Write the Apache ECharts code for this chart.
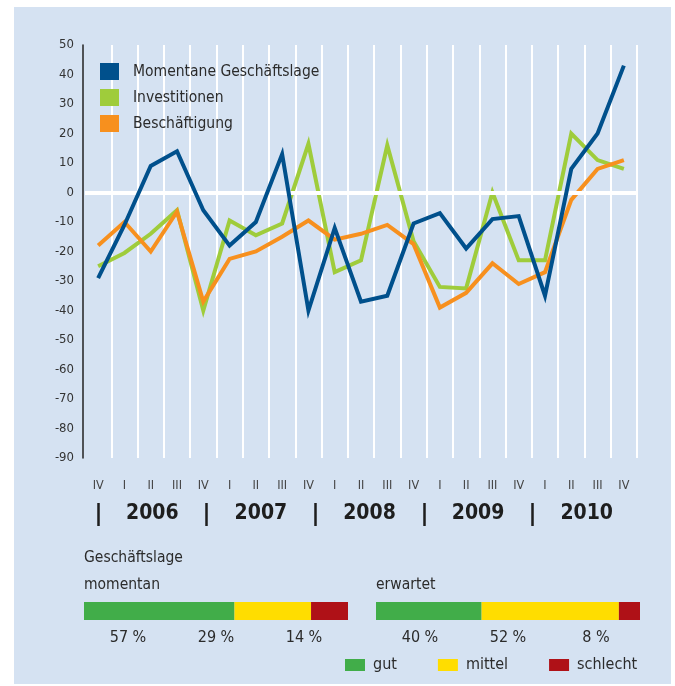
<!DOCTYPE html>
<html>
<head>
<meta charset="utf-8">
<script src="https://cdn.jsdelivr.net/npm/echarts@6/dist/echarts.min.js"></script>
<style>
html,body{margin:0;padding:0;background:#fff;}
#bg{position:absolute;left:14px;top:7px;width:657px;height:677px;background:#D5E2F2;}
#chart{position:absolute;left:0;top:0;width:675px;height:686px;}
</style>
</head>
<body>
<div id="bg"></div>
<div id="chart"></div>
<script>
// ---- data ----
const quarters = ['IV','I','II','III','IV','I','II','III','IV','I','II','III','IV','I','II','III','IV','I','II','III','IV'];
const years = ['2006','2007','2008','2009','2010'];
const momentaneGeschaeftslage = [-29,-11,9,14,-6,-18,-10,13,-40,-12,-37,-35,-10.5,-7,-19,-9,-8,-35,8,20,43];
const investitionen = [-25,-20.5,-14,-6,-40,-9.5,-14.5,-10.5,16.5,-27,-23,16,-16.5,-32,-32.5,0,-23,-23,20,11,8];
const beschaeftigung = [-18,-10,-20,-6.5,-37,-22.5,-20,-15,-9.5,-16,-14,-11,-17.5,-39,-34,-24,-31,-27,-2.5,8,11];
const ratingNames = ['gut','mittel','schlecht'];
const momentan = [57,29,14];
const erwartet = [40,52,8];
const yTicks = {min:-90, max:50, interval:10};

const F = "'DejaVu Sans Condensed','DejaVu Sans',sans-serif";
const TXT = '#2b2b2b';
const C = {blue:'#00508C', green:'#9FCC3B', orange:'#F7901E', gut:'#41AD49', mittel:'#FFDD00', schlecht:'#AF1117'};

const chart = echarts.init(document.getElementById('chart'), null, {renderer:'canvas'});

function lineSeries(name, data, color, z){
  return {name, type:'line', data, xAxisIndex:0, yAxisIndex:0, symbol:'none', z,
    color, lineStyle:{color, width:4, join:'miter', miterLimit:10}};
}
function barSeries(stack, xi, yi, values){
  return ratingNames.map((n,i)=>({name:n, type:'bar', stack, xAxisIndex:xi, yAxisIndex:yi,
    data:[values[i]], barWidth:'100%', color:C[n], itemStyle:{color:C[n]}}));
}
const titleStyle = {fontFamily:F,fontSize:15.5,fontWeight:'normal',color:TXT,lineHeight:18};

const option = {
  animation:false,
  textStyle:{fontFamily:F},
  title:[
    {text:'Geschäftslage', left:84, top:549, padding:0, textStyle:titleStyle},
    {text:'momentan', left:84, top:576, padding:0, textStyle:titleStyle},
    {text:'erwartet', left:376, top:576, padding:0, textStyle:titleStyle}
  ],
  legend:[
    {data:['Momentane Geschäftslage','Investitionen','Beschäftigung'], orient:'vertical', left:100, top:63, padding:0,
     itemWidth:19, itemHeight:17, itemGap:9, icon:'rect', selectedMode:false,
     textStyle:{fontFamily:F,fontSize:15.5,color:TXT,lineHeight:17,padding:[0,0,0,9]}},
    {data:ratingNames, orient:'horizontal', left:345, top:656, padding:0, itemWidth:20, itemHeight:12, itemGap:41,
     icon:'rect', selectedMode:false,
     textStyle:{fontFamily:F,fontSize:16,color:TXT,lineHeight:18,padding:[0,0,0,3]}}
  ],
  grid:[
    {left:85, right:38, top:45, bottom:228},
    {left:98, right:34, top:490, height:36},
    {left:84, right:327, top:602, height:18},
    {left:376, right:35, top:602, height:18}
  ],
  xAxis:[
    {gridIndex:0, type:'category', data:quarters, boundaryGap:true, position:'bottom',
     axisLine:{show:false}, axisTick:{show:false},
     splitLine:{show:true, interval:function(i){return i > 0;}, lineStyle:{color:'#fff', width:2}},
     axisLabel:{interval:0, fontSize:12.5, color:'#444', margin:28, verticalAlign:'middle'}},
    {gridIndex:1, type:'category', data:years, boundaryGap:true, position:'bottom',
     axisLine:{show:false}, axisTick:{show:false}, splitLine:{show:false},
     axisLabel:{interval:0, fontSize:21, fontWeight:'bold', color:'#1e1e1e', margin:-12, verticalAlign:'middle'}},
    {gridIndex:1, type:'category', data:years.concat(['']), boundaryGap:false, position:'bottom',
     axisLine:{show:false}, splitLine:{show:false}, axisLabel:{show:false},
     axisTick:{show:true, inside:true, length:23, interval:function(i){return i < years.length;},
       lineStyle:{color:'#1e1e1e', width:2.5}}},
    {gridIndex:2, type:'value', min:0, max:100, show:false},
    {gridIndex:2, type:'category', data:momentan.map(v=>v+' %'), position:'bottom',
     axisLine:{show:false}, axisTick:{show:false}, splitLine:{show:false},
     axisLabel:{interval:0, fontSize:16, color:TXT, margin:17.5, verticalAlign:'middle'}},
    {gridIndex:3, type:'value', min:0, max:100, show:false},
    {gridIndex:3, type:'category', data:erwartet.map(v=>v+' %'), position:'bottom',
     axisLine:{show:false}, axisTick:{show:false}, splitLine:{show:false},
     axisLabel:{interval:0, fontSize:16, color:TXT, margin:17.5, verticalAlign:'middle'}}
  ],
  yAxis:[
    {gridIndex:0, type:'value', min:yTicks.min, max:yTicks.max, interval:yTicks.interval, offset:2,
     axisLine:{show:true, lineStyle:{color:'#222', width:1.5}}, axisTick:{show:false}, splitLine:{show:false},
     axisLabel:{fontSize:13, color:'#333', margin:9}},
    {gridIndex:1, type:'value', show:false},
    {gridIndex:2, type:'category', data:['momentan'], show:false},
    {gridIndex:3, type:'category', data:['erwartet'], show:false}
  ],
  series:[
    {name:'zero', type:'line', data:[], xAxisIndex:0, yAxisIndex:0, z:1, symbol:'none',
     markLine:{silent:true, symbol:'none', label:{show:false}, animation:false,
       lineStyle:{color:'#fff', width:4, type:'solid'}, data:[{yAxis:0}]}},
    lineSeries('Investitionen', investitionen, C.green, 3),
    lineSeries('Beschäftigung', beschaeftigung, C.orange, 4),
    lineSeries('Momentane Geschäftslage', momentaneGeschaeftslage, C.blue, 5)
  ].concat(barSeries('m',3,2,momentan)).concat(barSeries('e',5,3,erwartet))
};
chart.setOption(option);
</script>
</body>
</html>
